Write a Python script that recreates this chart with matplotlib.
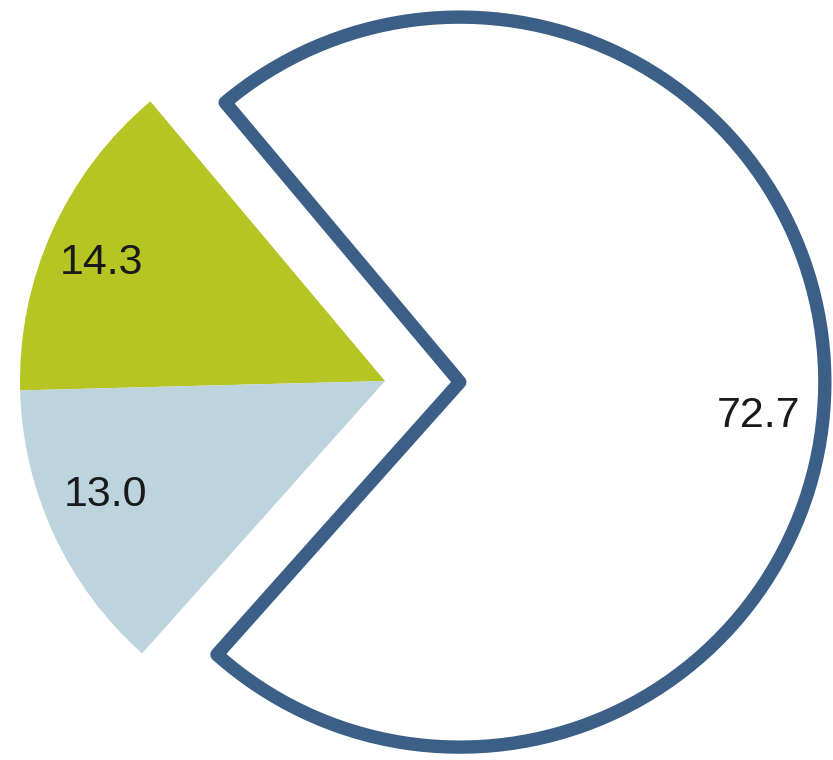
import matplotlib
matplotlib.use("Agg")
import matplotlib.pyplot as plt

values = [14.3, 13.0, 72.7]
colors = ["#b6c424", "#bdd4de", "white"]
edge_colors = ["none", "none", "#3b5f86"]
explode = [0, 0, 0.205]

fig = plt.figure(figsize=(8.33, 7.6), dpi=100)
ax = fig.add_axes([0, 0, 1, 1])

wedges, texts, autotexts = ax.pie(
    values,
    colors=colors,
    explode=explode,
    startangle=130,
    radius=1.0,
    autopct=lambda p: f"{p:.1f}",
    pctdistance=0.83,
    textprops=dict(fontsize=31, color="#1a1a1a",
                   family=["Liberation Sans Narrow", "Liberation Sans", "DejaVu Sans"]),
)

for w, ec in zip(wedges, edge_colors):
    w.set_edgecolor(ec)
    if ec != "none":
        w.set_linewidth(9.6)
        w.set_joinstyle("round")
    else:
        w.set_linewidth(0)

# nudge the labels a bit toward the horizontal split
autotexts[0].set_position((-0.778, 0.323))
autotexts[1].set_position((-0.767, -0.312))
autotexts[2].set_position((1.022, -0.096))

ax.set_aspect("auto")
ax.set_xlim(-385 / 365, (833 - 385) / 365)
ax.set_ylim(-379 / 365, 381 / 365)
ax.axis("off")

fig.savefig("out.png", dpi=100)
